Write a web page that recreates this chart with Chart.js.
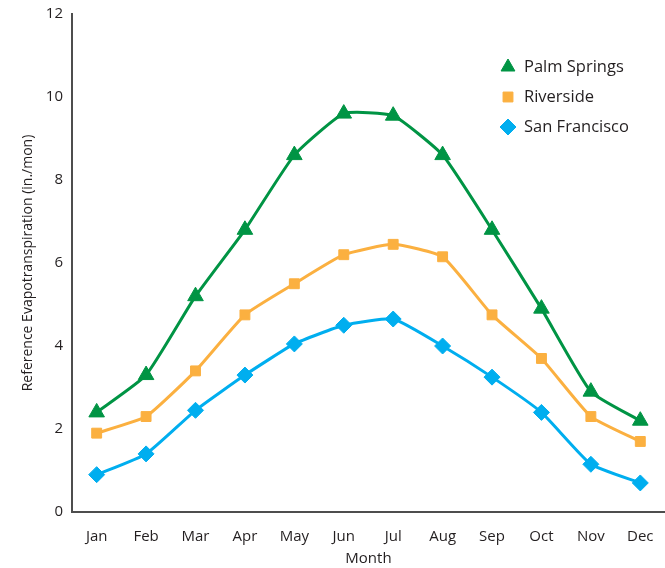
<!DOCTYPE html>
<html>
<head>
<meta charset="utf-8">
<style>
  html, body { margin: 0; padding: 0; background: #fff; }
  #wrap { width: 665px; height: 568px; }
</style>
<script src="https://cdn.jsdelivr.net/npm/chart.js@4.4.1/dist/chart.umd.min.js"></script>
</head>
<body>
<div id="wrap"><canvas id="etChart" width="665" height="568"></canvas></div>
<script>
const months = ['Jan', 'Feb', 'Mar', 'Apr', 'May', 'Jun', 'Jul', 'Aug', 'Sep', 'Oct', 'Nov', 'Dec'];
const palmSprings = [2.4, 3.3, 5.2, 6.8, 8.6, 9.6, 9.55, 8.6, 6.8, 4.9, 2.9, 2.2];
const riverside = [1.9, 2.3, 3.4, 4.75, 5.5, 6.2, 6.45, 6.15, 4.75, 3.7, 2.3, 1.7];
const sanFrancisco = [0.9, 1.4, 2.45, 3.3, 4.05, 4.5, 4.65, 4.0, 3.25, 2.4, 1.15, 0.7];
const yTicks = [0, 2, 4, 6, 8, 10, 12];

const textColor = '#231f20';
const fontFamily = '"Open Sans", "DejaVu Sans", sans-serif';

// legend drawn inside the plot, top right
const insideLegend = {
    id: 'insideLegend',
    afterDraw(chart) {
        const ctx = chart.ctx;
        const x0 = 508, y0 = 67, step = 30;
        ctx.save();
        chart.data.datasets.forEach((ds, i) => {
            const y = y0 + i * step;
            ctx.fillStyle = ds.pointBackgroundColor;
            ctx.strokeStyle = ds.pointBackgroundColor;
            ctx.lineWidth = 1;
            Chart.helpers.drawPoint(ctx, {
                pointStyle: ds.pointStyle,
                radius: ds.pointStyle === 'rect' ? 7 : 8,
                rotation: 0,
                borderWidth: 1
            }, x0, y);
            ctx.fillStyle = textColor;
            ctx.font = '16.5px ' + fontFamily;
            ctx.textBaseline = 'middle';
            ctx.textAlign = 'left';
            ctx.fillText(ds.label, x0 + 16, y);
        });
        ctx.restore();
    }
};

const makeSet = (label, data, color, style, radius) => ({
    label: label,
    data: data,
    borderColor: color,
    backgroundColor: color,
    pointBackgroundColor: color,
    pointBorderColor: color,
    pointStyle: style,
    pointRadius: radius,
    pointBorderWidth: 1,
    borderWidth: 3,
    tension: 0.15,
    fill: false
});

new Chart(document.getElementById('etChart'), {
    type: 'line',
    data: {
        labels: months,
        datasets: [
            makeSet('Palm Springs', palmSprings, '#009444', 'triangle', 9),
            makeSet('Riverside', riverside, '#fbb040', 'rect', 7),
            makeSet('San Francisco', sanFrancisco, '#00aeef', 'rectRot', 8)
        ]
    },
    options: {
        responsive: false,
        animation: false,
        layout: { autoPadding: false, padding: { top: 0, right: 0, left: 0, bottom: 0 } },
        plugins: {
            legend: { display: false },
            tooltip: { enabled: false }
        },
        scales: {
            x: {
                offset: true,
                afterFit: (scale) => { scale.paddingLeft = 0; scale.paddingRight = 0; },
                grid: { display: true, drawOnChartArea: false, drawTicks: false },
                border: { display: true, color: '#4d4d4d', width: 2 },
                ticks: { color: textColor, padding: 16, font: { family: fontFamily, size: 15 }, maxRotation: 0, autoSkip: false },
                title: { display: true, text: 'Month', color: textColor, padding: { top: -12, bottom: 0 }, font: { family: fontFamily, size: 15 } }
            },
            y: {
                min: 0,
                max: 12,
                afterFit: (scale) => { scale.paddingTop = 14; },
                afterBuildTicks: (axis) => { axis.ticks = yTicks.map(v => ({ value: v })); },
                grid: { display: true, drawOnChartArea: false, drawTicks: false },
                border: { display: true, color: '#4d4d4d', width: 2 },
                ticks: { color: textColor, padding: 9, font: { family: fontFamily, size: 15 } },
                title: { display: true, text: 'Reference Evapotranspiration (in./mon)', color: textColor, padding: { top: 20, bottom: 0 }, font: { family: fontFamily, size: 14 } }
            }
        }
    },
    plugins: [insideLegend]
});
</script>
</body>
</html>
